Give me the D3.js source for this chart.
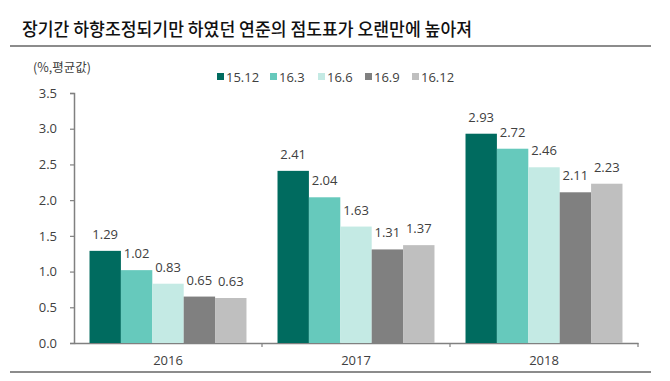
<!DOCTYPE html>
<html><head><meta charset="utf-8">
<script src="https://cdn.jsdelivr.net/npm/d3@7"></script>
<style>body{margin:0;background:#fff}svg{display:block}</style>
</head><body>
<svg id="c" width="670" height="381"></svg>
<script>
const title = "장기간 하향조정되기만 하였던 연준의 점도표가 오랜만에 높아져";
const unitLabel = "(%,평균값)";
const categories = ["2016", "2017", "2018"];
const seriesNames = ["15.12", "16.3", "16.6", "16.9", "16.12"];
const s1512 = [1.29, 2.41, 2.93];
const s163 = [1.02, 2.04, 2.72];
const s166 = [0.83, 1.63, 2.46];
const s169 = [0.65, 1.31, 2.11];
const s1612 = [0.63, 1.37, 2.23];
const yTicks = [0, 0.5, 1.0, 1.5, 2.0, 2.5, 3.0, 3.5];
const colors = ["#006b5f", "#66c9bc", "#c4eae4", "#808080", "#bfbfbf"];

const seriesValues = [s1512, s163, s166, s169, s1612];
const svg = d3.select("#c");
const numFont = "'Open Sans', 'Noto Sans', sans-serif";
const txt = "#404040";

// title
svg.append("text").attr("x", 22).attr("y", 36)
  .attr("font-family", "'Noto Sans CJK KR', sans-serif").attr("font-size", 18)
  .attr("font-weight", 500).attr("fill", "#111")
  .attr("textLength", 450).attr("lengthAdjust", "spacingAndGlyphs")
  .text(title);
svg.append("line").attr("x1", 10).attr("x2", 651).attr("y1", 46).attr("y2", 46)
  .attr("stroke", "#8c8c8c").attr("stroke-width", 2);
svg.append("line").attr("x1", 10).attr("x2", 651).attr("y1", 372).attr("y2", 372)
  .attr("stroke", "#8c8c8c").attr("stroke-width", 2);

const x0 = d3.scaleBand().domain(categories).range([74, 638]).paddingInner(0.165).paddingOuter(0.0825);
const x1 = d3.scaleBand().domain(seriesNames).range([0, x0.bandwidth()]);
const y = d3.scaleLinear().domain([0, 3.5]).range([343, 93]);

// unit label
svg.append("text").attr("x", 33).attr("y", 72)
  .attr("font-family", "'Noto Sans CJK KR', sans-serif").attr("font-size", 12.5)
  .attr("fill", txt).text(unitLabel);

// y axis
const yAxis = d3.axisLeft(y).tickValues(yTicks).tickFormat(d3.format(".1f")).tickSize(4).tickPadding(13);
const gy = svg.append("g").attr("transform", "translate(74,0)").call(yAxis);
gy.select(".domain").attr("stroke", "#808080").attr("stroke-width", 1.5);
gy.selectAll(".tick line").attr("stroke", "#808080").attr("stroke-width", 1.2);
gy.selectAll(".tick text").attr("font-family", numFont).attr("font-size", 13).attr("fill", txt);

// x axis
const xAxis = d3.axisBottom(x0).tickSize(0).tickPadding(13);
const gx = svg.append("g").attr("transform", "translate(0,343)").call(xAxis);
gx.select(".domain").attr("stroke", "#808080").attr("stroke-width", 1.5);
gx.selectAll(".tick text").attr("font-family", numFont).attr("font-size", 13).attr("fill", txt);
// boundary ticks
const bounds = [x0.range()[0] + x0.step() * 1, x0.range()[0] + x0.step() * 2, x0.range()[1]];
svg.append("g").selectAll("line").data(bounds).join("line")
  .attr("x1", d => d).attr("x2", d => d).attr("y1", 343).attr("y2", 347)
  .attr("stroke", "#808080").attr("stroke-width", 1.2);

// bars
const groups = svg.append("g").selectAll("g").data(categories).join("g")
  .attr("transform", d => `translate(${x0(d)},0)`);
groups.selectAll("rect").data((c, ci) => seriesNames.map((s, si) => ({s, si, v: seriesValues[si][ci]})))
  .join("rect")
  .attr("x", d => x1(d.s)).attr("width", x1.bandwidth())
  .attr("y", d => y(d.v)).attr("height", d => y(0) - y(d.v))
  .attr("fill", d => colors[d.si]);
groups.selectAll("text").data((c, ci) => seriesNames.map((s, si) => ({s, si, v: seriesValues[si][ci]})))
  .join("text")
  .attr("x", d => x1(d.s) + x1.bandwidth() / 2).attr("y", d => y(d.v) - 12)
  .attr("text-anchor", "middle").attr("font-family", numFont).attr("font-size", 13)
  .attr("fill", txt).text(d => d3.format(".2f")(d.v));

// legend
const lx = [217, 270, 318, 365, 412];
const leg = svg.append("g").selectAll("g").data(seriesNames).join("g")
  .attr("transform", (d, i) => `translate(${lx[i]},0)`);
leg.append("rect").attr("x", 0).attr("y", 73).attr("width", 7).attr("height", 7)
  .attr("fill", (d, i) => colors[i]);
leg.append("text").attr("x", 9).attr("y", 82).attr("font-family", numFont).attr("font-size", 13)
  .attr("fill", txt).text(d => d);
</script>
</body></html>
